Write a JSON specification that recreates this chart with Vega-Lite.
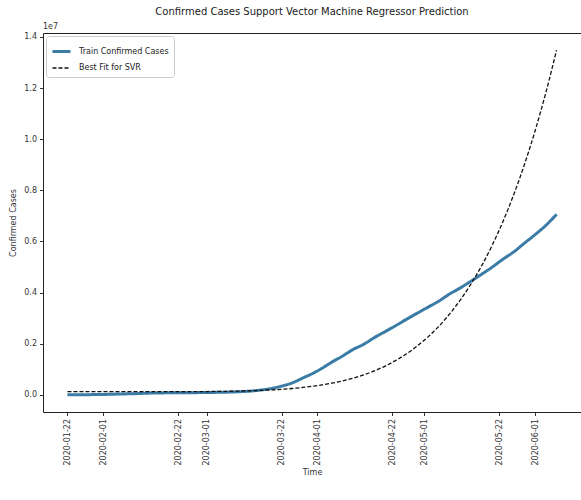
{
  "$schema": "https://vega.github.io/schema/vega-lite/v6.json",
  "autosize": "none",
  "width": 538,
  "height": 379,
  "padding": {"left": 43, "top": 33, "right": 0, "bottom": 88},
  "background": "white",
  "config": {
    "font": "DejaVu Sans",
    "view": {"stroke": "#222", "strokeWidth": 1},
    "axis": {"grid": false, "domain": false, "tickColor": "#333", "tickSize": 3.5, "labelColor": "#333", "titleColor": "#333", "labelFont": "DejaVu Sans", "titleFont": "DejaVu Sans", "titleFontWeight": "normal"},
    "legend": {"orient": "top-left", "offset": 3, "padding": 5, "strokeColor": "#cccccc", "fillColor": "white", "cornerRadius": 3, "symbolType": "stroke", "symbolSize": 324, "labelFontSize": 8, "labelColor": "#222", "rowPadding": 0, "labelOffset": 7}
  },
  "title": {"text": "Confirmed Cases Support Vector Machine Regressor Prediction", "fontSize": 10, "fontWeight": "normal", "color": "#222", "offset": 6, "anchor": "middle"},
  "data": {"values": [
    {"date": "2020-01-22", "Train Confirmed Cases": 555, "Best Fit for SVR": 120000},
    {"date": "2020-01-26", "Train Confirmed Cases": 2118, "Best Fit for SVR": 120000},
    {"date": "2020-01-30", "Train Confirmed Cases": 8234, "Best Fit for SVR": 120000},
    {"date": "2020-02-01", "Train Confirmed Cases": 12038, "Best Fit for SVR": 120000},
    {"date": "2020-02-05", "Train Confirmed Cases": 28276, "Best Fit for SVR": 120000},
    {"date": "2020-02-10", "Train Confirmed Cases": 42762, "Best Fit for SVR": 120000},
    {"date": "2020-02-15", "Train Confirmed Cases": 69032, "Best Fit for SVR": 120000},
    {"date": "2020-02-20", "Train Confirmed Cases": 76199, "Best Fit for SVR": 121000},
    {"date": "2020-02-25", "Train Confirmed Cases": 80415, "Best Fit for SVR": 123000},
    {"date": "2020-03-01", "Train Confirmed Cases": 88369, "Best Fit for SVR": 127000},
    {"date": "2020-03-05", "Train Confirmed Cases": 97886, "Best Fit for SVR": 133000},
    {"date": "2020-03-10", "Train Confirmed Cases": 118582, "Best Fit for SVR": 145000},
    {"date": "2020-03-15", "Train Confirmed Cases": 167447, "Best Fit for SVR": 165000},
    {"date": "2020-03-20", "Train Confirmed Cases": 272167, "Best Fit for SVR": 197000},
    {"date": "2020-03-22", "Train Confirmed Cases": 337020, "Best Fit for SVR": 214000},
    {"date": "2020-03-25", "Train Confirmed Cases": 467653, "Best Fit for SVR": 246000},
    {"date": "2020-03-28", "Train Confirmed Cases": 660706, "Best Fit for SVR": 287000},
    {"date": "2020-03-31", "Train Confirmed Cases": 857487, "Best Fit for SVR": 338000},
    {"date": "2020-04-02", "Train Confirmed Cases": 1013157, "Best Fit for SVR": 379000},
    {"date": "2020-04-05", "Train Confirmed Cases": 1272115, "Best Fit for SVR": 452000},
    {"date": "2020-04-08", "Train Confirmed Cases": 1511104, "Best Fit for SVR": 541000},
    {"date": "2020-04-11", "Train Confirmed Cases": 1771514, "Best Fit for SVR": 650000},
    {"date": "2020-04-14", "Train Confirmed Cases": 1976191, "Best Fit for SVR": 781000},
    {"date": "2020-04-17", "Train Confirmed Cases": 2240191, "Best Fit for SVR": 937000},
    {"date": "2020-04-20", "Train Confirmed Cases": 2472259, "Best Fit for SVR": 1124000},
    {"date": "2020-04-23", "Train Confirmed Cases": 2708885, "Best Fit for SVR": 1345000},
    {"date": "2020-04-26", "Train Confirmed Cases": 2954222, "Best Fit for SVR": 1604000},
    {"date": "2020-04-29", "Train Confirmed Cases": 3193886, "Best Fit for SVR": 1910000},
    {"date": "2020-05-02", "Train Confirmed Cases": 3427343, "Best Fit for SVR": 2265000},
    {"date": "2020-05-05", "Train Confirmed Cases": 3662691, "Best Fit for SVR": 2677000},
    {"date": "2020-05-08", "Train Confirmed Cases": 3939282, "Best Fit for SVR": 3153000},
    {"date": "2020-05-11", "Train Confirmed Cases": 4177502, "Best Fit for SVR": 3699000},
    {"date": "2020-05-14", "Train Confirmed Cases": 4442163, "Best Fit for SVR": 4327000},
    {"date": "2020-05-17", "Train Confirmed Cases": 4713620, "Best Fit for SVR": 5042000},
    {"date": "2020-05-20", "Train Confirmed Cases": 4996472, "Best Fit for SVR": 5858000},
    {"date": "2020-05-23", "Train Confirmed Cases": 5304772, "Best Fit for SVR": 6782000},
    {"date": "2020-05-26", "Train Confirmed Cases": 5589626, "Best Fit for SVR": 7827000},
    {"date": "2020-05-29", "Train Confirmed Cases": 5930096, "Best Fit for SVR": 9006000},
    {"date": "2020-06-01", "Train Confirmed Cases": 6267033, "Best Fit for SVR": 10331000},
    {"date": "2020-06-04", "Train Confirmed Cases": 6626467, "Best Fit for SVR": 11820000},
    {"date": "2020-06-07", "Train Confirmed Cases": 7060000, "Best Fit for SVR": 13480000}
  ]},
  "layer": [
    {
      "transform": [{"fold": ["Train Confirmed Cases", "Best Fit for SVR"], "as": ["series", "value"]}],
      "mark": {"type": "line", "interpolate": "monotone"},
      "encoding": {
        "x": {
          "field": "date", "type": "temporal",
          "scale": {"type": "utc", "domain": [{"year": 2020, "month": 1, "date": 15, "hours": 3, "minutes": 36, "utc": true}, {"year": 2020, "month": 6, "date": 13, "hours": 20, "minutes": 24, "utc": true}]},
          "axis": {
            "title": "Time", "titleFontSize": 8, "titlePadding": 4,
            "labelAngle": -90, "labelFontSize": 8, "labelPadding": 3,
            "values": [
              {"year": 2020, "month": 1, "date": 22, "utc": true},
              {"year": 2020, "month": 2, "date": 1, "utc": true},
              {"year": 2020, "month": 2, "date": 22, "utc": true},
              {"year": 2020, "month": 3, "date": 1, "utc": true},
              {"year": 2020, "month": 3, "date": 22, "utc": true},
              {"year": 2020, "month": 4, "date": 1, "utc": true},
              {"year": 2020, "month": 4, "date": 22, "utc": true},
              {"year": 2020, "month": 5, "date": 1, "utc": true},
              {"year": 2020, "month": 5, "date": 22, "utc": true},
              {"year": 2020, "month": 6, "date": 1, "utc": true}
            ],
            "labelExpr": "utcFormat(datum.value, '%Y-%m-%d')"
          }
        },
        "y": {
          "field": "value", "type": "quantitative",
          "scale": {"domain": [-674000, 14154000], "nice": false, "zero": false},
          "axis": {
            "title": "Confirmed Cases", "titleFontSize": 8, "titlePadding": 6,
            "labelFontSize": 8, "labelPadding": 3,
            "values": [0, 2000000, 4000000, 6000000, 8000000, 10000000, 12000000, 14000000],
            "labelExpr": "format(datum.value / 10000000, '.1f')"
          }
        },
        "color": {"field": "series", "type": "nominal", "scale": {"domain": ["Train Confirmed Cases", "Best Fit for SVR"], "range": ["#3a7ca5", "#111111"]}, "legend": {"title": null, "orient": "top-left"}},
        "strokeDash": {"field": "series", "type": "nominal", "scale": {"domain": ["Train Confirmed Cases", "Best Fit for SVR"], "range": [[1, 0], [4, 2]]}, "legend": {"title": null, "orient": "top-left"}},
        "strokeWidth": {"field": "series", "type": "nominal", "scale": {"domain": ["Train Confirmed Cases", "Best Fit for SVR"], "range": [3, 1.3]}, "legend": {"title": null, "orient": "top-left"}}
      }
    },
    {
      "data": {"values": [{"label": "1e7"}]},
      "mark": {"type": "text", "align": "left", "baseline": "bottom", "dy": -2, "fontSize": 8, "color": "#333"},
      "encoding": {
        "x": {"datum": {"year": 2020, "month": 1, "date": 15, "hours": 3, "minutes": 36, "utc": true}, "type": "temporal"},
        "y": {"datum": 14154000, "type": "quantitative"},
        "text": {"field": "label"}
      }
    }
  ]
}
